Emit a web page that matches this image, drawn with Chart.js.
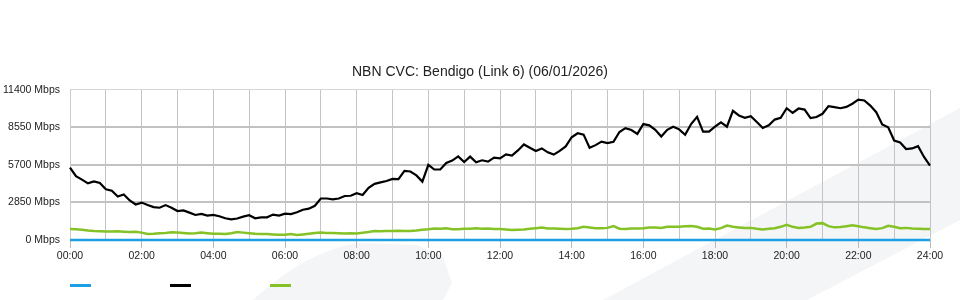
<!DOCTYPE html>
<html lang="en">
<head>
<meta charset="UTF-8">
<title>NBN CVC: Bendigo (Link 6)</title>
<script src="https://cdn.jsdelivr.net/npm/chart.js"></script>
<style>
  body { margin: 0; background: #fff; }
  #wrap { width: 960px; height: 300px; }
</style>
</head>
<body>
<div id="wrap"><canvas id="cvc-chart" width="960" height="300"></canvas></div>
<script>
  // 10 minute samples, 00:00 .. 24:00
  const timeLabels = [
    "00:00","00:10","00:20","00:30","00:40","00:50",
    "01:00","01:10","01:20","01:30","01:40","01:50",
    "02:00","02:10","02:20","02:30","02:40","02:50",
    "03:00","03:10","03:20","03:30","03:40","03:50",
    "04:00","04:10","04:20","04:30","04:40","04:50",
    "05:00","05:10","05:20","05:30","05:40","05:50",
    "06:00","06:10","06:20","06:30","06:40","06:50",
    "07:00","07:10","07:20","07:30","07:40","07:50",
    "08:00","08:10","08:20","08:30","08:40","08:50",
    "09:00","09:10","09:20","09:30","09:40","09:50",
    "10:00","10:10","10:20","10:30","10:40","10:50",
    "11:00","11:10","11:20","11:30","11:40","11:50",
    "12:00","12:10","12:20","12:30","12:40","12:50",
    "13:00","13:10","13:20","13:30","13:40","13:50",
    "14:00","14:10","14:20","14:30","14:40","14:50",
    "15:00","15:10","15:20","15:30","15:40","15:50",
    "16:00","16:10","16:20","16:30","16:40","16:50",
    "17:00","17:10","17:20","17:30","17:40","17:50",
    "18:00","18:10","18:20","18:30","18:40","18:50",
    "19:00","19:10","19:20","19:30","19:40","19:50",
    "20:00","20:10","20:20","20:30","20:40","20:50",
    "21:00","21:10","21:20","21:30","21:40","21:50",
    "22:00","22:10","22:20","22:30","22:40","22:50",
    "23:00","23:10","23:20","23:30","23:40","23:50",
    "24:00"
  ];

  const blueValues = [
    0,0,0,0,0,0, 0,0,0,0,0,0, 0,0,0,0,0,0, 0,0,0,0,0,0,
    0,0,0,0,0,0, 0,0,0,0,0,0, 0,0,0,0,0,0, 0,0,0,0,0,0,
    0,0,0,0,0,0, 0,0,0,0,0,0, 0,0,0,0,0,0, 0,0,0,0,0,0,
    0,0,0,0,0,0, 0,0,0,0,0,0, 0,0,0,0,0,0, 0,0,0,0,0,0,
    0,0,0,0,0,0, 0,0,0,0,0,0, 0,0,0,0,0,0, 0,0,0,0,0,0,
    0,0,0,0,0,0, 0,0,0,0,0,0, 0,0,0,0,0,0, 0,0,0,0,0,0,
    0
  ];

  const blackValues = [
    5500, 4850, 4580, 4300, 4450, 4330, 3850,
    3740, 3300, 3450, 3000, 2700, 2840,
    2650, 2500, 2450, 2650, 2450, 2200,
    2250, 2080, 1900, 1980, 1850, 1900,
    1800, 1650, 1570, 1630, 1770, 1880,
    1650, 1720, 1720, 1930, 1850, 2000,
    1970, 2100, 2300, 2380, 2600, 3150,
    3150, 3090, 3150, 3340, 3360, 3550,
    3420, 3960, 4260, 4370, 4480, 4640,
    4620, 5250, 5200, 4900, 4430, 5700,
    5350, 5350, 5850, 6030, 6350, 5920,
    6330, 5900, 6050, 5950, 6250, 6200,
    6500, 6400, 6800, 7250, 7000, 6750,
    6950, 6650, 6480, 6760, 7100, 7800,
    8100, 8000, 7000, 7200, 7470, 7350,
    7450, 8200, 8490, 8350, 8050, 8800,
    8700, 8360, 7850, 8360, 8600, 8400,
    7980, 8800, 9350, 8230, 8230, 8600,
    8930, 8600, 9800, 9450, 9270, 9400,
    8950, 8500, 8700, 9140, 9270, 10000,
    9650, 9980, 9900, 9250, 9330, 9580,
    10160, 10080, 10000, 10100, 10340, 10650,
    10590, 10200, 9700, 8770, 8550, 7550,
    7400, 6900, 6950, 7120, 6300, 5650
  ];

  const greenValues = [
    840, 820, 780, 720, 680, 660,
    650, 640, 660, 630, 610, 630,
    560, 450, 470, 520, 540, 580,
    560, 540, 500, 520, 560, 520,
    480, 470, 460, 520, 600, 560,
    520, 470, 450, 460, 420, 390,
    400, 450, 380, 420, 470, 530,
    560, 540, 530, 520, 500, 510,
    500, 550, 600, 680, 660, 690,
    680, 700, 680, 690, 720, 780,
    820, 880, 860, 890, 820, 810,
    860, 850, 890, 860, 870, 840,
    840, 800, 760, 780, 800, 860,
    900, 940, 880, 870, 860, 840,
    850, 900, 1010, 950, 900, 890,
    920, 1060, 860, 840, 870, 880,
    900, 940, 950, 920, 1000, 1010,
    1000, 1040, 1060, 1000, 860, 880,
    800, 900, 1090, 1000, 950, 910,
    920, 850, 800, 860, 900, 1000,
    1160, 1000, 920, 950, 1000, 1250,
    1280, 1050, 960, 980, 1050, 1110,
    1050, 960, 900, 840, 900, 1080,
    1000, 900, 920, 880, 860, 840,
    840
  ];

  const yTicks = [0, 2850, 5700, 8550, 11400];
  const chartTitle = "NBN CVC: Bendigo (Link 6) (06/01/2026)";
  const FONT = "'Liberation Sans', Arial, sans-serif";

  // faint watermark shapes behind the chart
  const backdrop = {
    id: 'backdrop',
    beforeDraw(chart) {
      const c = chart.ctx;
      c.save();
      c.fillStyle = '#ffffff';
      c.fillRect(0, 0, chart.width, chart.height);
      c.fillStyle = '#f4f5f7';
      c.beginPath();
      c.moveTo(253, 300);
      c.quadraticCurveTo(305, 252, 357, 243);
      c.lineTo(417, 245);
      c.lineTo(443, 257);
      c.lineTo(452, 283);
      c.lineTo(443, 300);
      c.closePath();
      c.fill();
      c.beginPath();
      c.moveTo(603, 300);
      c.lineTo(960, 108);
      c.lineTo(960, 220);
      c.lineTo(807, 300);
      c.closePath();
      c.fill();
      c.restore();
    }
  };

  // legend swatches without text
  const swatches = {
    id: 'swatches',
    afterDraw(chart) {
      const c = chart.ctx;
      const left = chart.chartArea.left;
      chart.data.datasets.forEach((ds, i) => {
        c.fillStyle = ds.borderColor;
        c.fillRect(left + i * 100, 284, 21, 3);
      });
    }
  };

  new Chart(document.getElementById('cvc-chart'), {
    type: 'line',
    data: {
      labels: timeLabels,
      datasets: [
        { data: blueValues, borderColor: '#1ca0e3', borderWidth: 2.5, clip: false },
        { data: blackValues, borderColor: '#000000', borderWidth: 2.2, clip: false },
        { data: greenValues, borderColor: '#84c225', borderWidth: 2.5, clip: false }
      ]
    },
    options: {
      responsive: false,
      animation: false,
      devicePixelRatio: 1,
      layout: { padding: 0 },
      elements: {
        line: { tension: 0, fill: false },
        point: { radius: 0 }
      },
      plugins: {
        legend: { display: false },
        tooltip: { enabled: false },
        title: {
          display: true,
          text: chartTitle,
          color: '#222',
          font: { family: FONT, size: 14, weight: 'normal' },
          padding: { top: 64, bottom: 9 }
        }
      },
      scales: {
        x: {
          afterFit(scale) { scale.height = 60; },
          grid: {
            color: ctx => ctx.index % 6 === 0 ? '#c4c4c4' : 'transparent',
            tickColor: ctx => ctx.index % 12 === 0 ? '#bbbbbb' : 'transparent',
            tickLength: 8,
            lineWidth: 1
          },
          border: { display: false },
          ticks: {
            autoSkip: false,
            maxRotation: 0,
            padding: 2,
            color: '#222',
            font: { family: FONT, size: 10.5 },
            callback: (v, i) => i % 12 === 0 ? timeLabels[i] : ''
          }
        },
        y: {
          min: 0,
          max: 11400,
          afterFit(scale) { scale.width = 70; },
          afterBuildTicks(scale) { scale.ticks = yTicks.map(v => ({ value: v })); },
          grid: {
            color: ctx => ctx.tick && ctx.tick.value === 11400 ? '#d6d6d6' : '#c2c2c2',
            lineWidth: ctx => ctx.tick && (ctx.tick.value === 11400 || ctx.tick.value === 0) ? 1 : 2,
            drawTicks: false
          },
          border: { display: true, color: '#cccccc' },
          ticks: {
            padding: 10,
            color: '#222',
            font: { family: FONT, size: 10.5 },
            callback: v => v + ' Mbps'
          }
        },
        // empty right-hand gutter so the plot ends at 24:00 with room to spare
        gutter: {
          type: 'linear',
          position: 'right',
          afterFit(scale) { scale.width = 30; },
          grid: { display: false },
          border: { display: false },
          ticks: { display: false }
        }
      }
    },
    plugins: [backdrop, swatches]
  });
</script>
</body>
</html>
